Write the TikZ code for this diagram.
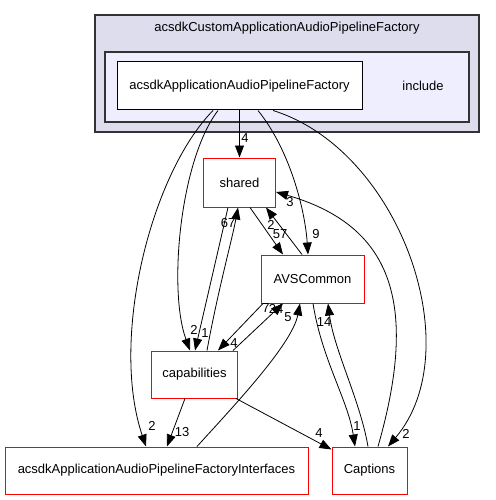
\documentclass[tikz,border=0pt]{standalone}
\usepackage{fontspec}
\setmainfont{Liberation Sans}
\usetikzlibrary{arrows.meta}

\definecolor{outerfill}{RGB}{221,221,238}
\definecolor{innerfill}{RGB}{238,238,255}

\tikzset{
  dirbox/.style={draw=red,fill=white,line width=1pt,inner sep=0pt},
  dep/.style={-{Triangle[length=12pt,width=9pt]},line width=0.8pt},
  elabel/.style={inner sep=0pt},
}

\begin{document}
\begin{tikzpicture}[x=1pt,y=-1pt,font=\fontsize{13}{15}\selectfont]
\useasboundingbox (0,0) rectangle (495,500);

% Clusters
\draw[fill=outerfill,draw=black!80,line width=1.2pt] (95,15) rectangle (479,132);
\node (title) at (287,28) {acsdkCustomApplicationAudioPipelineFactory};
\draw[fill=innerfill,draw=black!80,line width=1.2pt] (105,52) rectangle (469,122);
\node (incl) at (423,86) {include};

% Directories
\node[dirbox,draw=black,minimum width=245pt,minimum height=48pt] (fac) at (239.5,86) {acsdkApplicationAudioPipelineFactory};
\node[dirbox,minimum width=72pt,minimum height=49pt] (shared) at (239.5,182.5) {shared};
\node[dirbox,minimum width=103pt,minimum height=48pt] (avs) at (312.5,279) {AVSCommon};
\node[dirbox,minimum width=86pt,minimum height=47pt] (cap) at (194.5,374.5) {capabilities};
\node[dirbox,minimum width=303pt,minimum height=47pt] (ifc) at (156.5,470.5) {acsdkApplicationAudioPipelineFactoryInterfaces};
\node[dirbox,minimum width=75pt,minimum height=47pt] (capt) at (369.5,470.5) {Captions};

% Dependencies
\draw[dep] ([xshift=-26.5pt]fac.south) .. controls (150,175) and (110,340) .. ([xshift=-10.5pt]ifc.north);
\draw[dep] ([xshift=-21.5pt]fac.south) .. controls (180,160) and (168,290) .. ([xshift=-4.5pt]cap.north);
\draw[dep] (fac.south) -- (shared.north);
\draw[dep] ([xshift=18.5pt]fac.south) .. controls (290,150) and (305,210) .. ([xshift=-4.5pt]avs.north);
\draw[dep] ([xshift=33.5pt]fac.south) .. controls (400,150) and (470,350) .. ([xshift=18.5pt]capt.north);
\draw[dep] ([xshift=10.5pt]shared.south) -- ([xshift=-29.5pt]avs.north);
\draw[dep] ([xshift=-10.5pt]avs.north) -- ([xshift=26.5pt]shared.south);
\draw[dep] ([xshift=-11.5pt]shared.south) -- ([xshift=0.5pt]cap.north);
\draw[dep] ([xshift=12.5pt]cap.north) .. controls (218,290) and (232,240) .. ([xshift=-1.5pt]shared.south);
\draw[dep] ([xshift=-49.5pt]avs.south) -- ([xshift=23.5pt]cap.north);
\draw[dep] ([xshift=38.5pt]cap.north) -- ([xshift=-29.5pt]avs.south);
\draw[dep] ([xshift=40.5pt]ifc.north) .. controls (230,410) and (292,345) .. ([xshift=-12.5pt]avs.south);
\draw[dep] ([xshift=-9.5pt]cap.south) -- ([xshift=10.5pt]ifc.north);
\draw[dep] ([xshift=-2pt]cap.south east) -- ([yshift=-3pt]capt.north west);
\draw[dep] ([xshift=0.5pt]avs.south) .. controls (322,360) and (348,400) .. ([xshift=-14.5pt]capt.north);
\draw[dep] ([xshift=-1.5pt]capt.north) .. controls (360,400) and (334,350) .. ([xshift=15.5pt]avs.south);
\draw[dep] ([xshift=8.5pt]capt.north) .. controls (420,300) and (390,225) .. ([yshift=-9.5pt]shared.east);

% Edge labels
\node[elabel] at (245,138) {4};
\node[elabel] at (316,234) {9};
\node[elabel] at (406,434) {2};
\node[elabel] at (152,426) {2};
\node[elabel] at (194,330) {2};
\node[elabel] at (205,333) {1};
\node[elabel] at (228,223) {67};
\node[elabel] at (271,225) {2};
\node[elabel] at (280,234) {57};
\node[elabel] at (290,202) {3};
\node[elabel] at (266,308) {7};
\node[elabel] at (276,309) {24};
\node[elabel] at (288,317) {5};
\node[elabel] at (234,343) {4};
\node[elabel] at (324,322) {14};
\node[elabel] at (357,426) {1};
\node[elabel] at (319,433) {4};
\node[elabel] at (182,432) {13};

\end{tikzpicture}
\end{document}
